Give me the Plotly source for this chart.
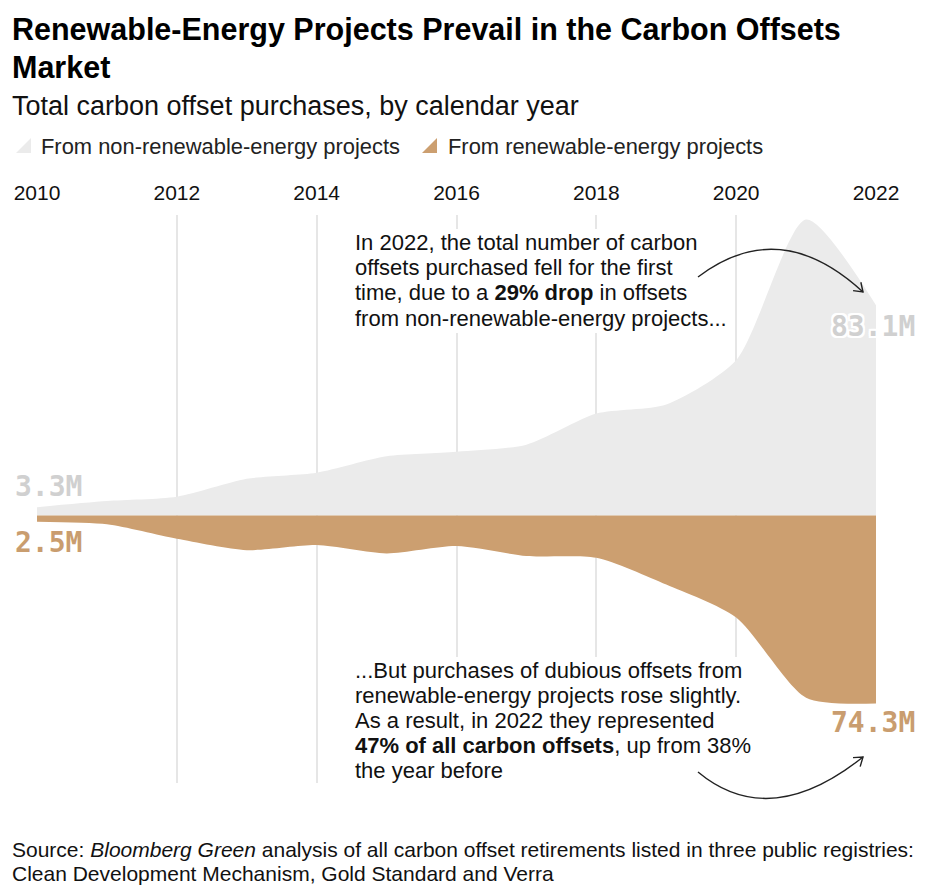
import math
import plotly.graph_objects as go

# ---------------- data ----------------
years = [2010, 2011, 2012, 2013, 2014, 2015, 2016, 2017, 2018, 2019, 2020, 2021, 2022]
non_renewable = [3.3, 5.7, 7.4, 14.5, 16.9, 23.4, 25.2, 28.0, 40.3, 43.9, 61.4, 117.0, 83.1]
renewable = [2.5, 3.5, 9.2, 13.7, 11.7, 15.0, 12.1, 16.0, 16.7, 27.3, 40.3, 72.0, 74.3]
tick_years = [2010, 2012, 2014, 2016, 2018, 2020, 2022]
series_names = ["From non-renewable-energy projects", "From renewable-energy projects"]

title_lines = ["Renewable-Energy Projects Prevail in the Carbon Offsets", "Market"]
subtitle = "Total carbon offset purchases, by calendar year"
note_top = ["In 2022, the total number of carbon",
            "offsets purchased fell for the first",
            "time, due to a <b>29% drop</b> in offsets",
            "from non-renewable-energy projects..."]
note_bottom = ["...But purchases of dubious offsets from",
               "renewable-energy projects rose slightly.",
               "As a result, in 2022 they represented",
               "<b>47% of all carbon offsets</b>, up from 38%",
               "the year before"]
source_lines = ["Source: <i>Bloomberg Green</i> analysis of all carbon offset retirements listed in three public registries:",
                "Clean Development Mechanism, Gold Standard and Verra"]

GRAY = "#ebebeb"
TAN = "#cc9f70"
GRAY_TXT = "#d0d0d0"
TAN_TXT = "#c99d6f"
FONT = "Liberation Sans, Arial, sans-serif"
MONO = "DejaVu Sans Mono, Liberation Mono, monospace"

W, H = 930, 895
L, R, T, B = 37, 54, 215, 112
PW, PH = W - L - R, H - T - B


def px(x):
    return (x - L) / PW


def py(y):
    return (H - B - y) / PH


fig = go.Figure()
fig.add_trace(go.Scatter(
    x=years, y=non_renewable, mode="lines",
    line=dict(width=0, color=GRAY, shape="spline", smoothing=0.7),
    fill="tozeroy", fillcolor=GRAY, hoverinfo="skip", showlegend=False,
    name=series_names[0]))
fig.add_trace(go.Scatter(
    x=years, y=[-v for v in renewable], mode="lines",
    line=dict(width=0, color=TAN, shape="spline", smoothing=0.7),
    fill="tozeroy", fillcolor=TAN, hoverinfo="skip", showlegend=False,
    name=series_names[1]))

halo = ", ".join(f"{dx}px {dy}px 0 #fff" for dx in (-2, 0, 2) for dy in (-2, 0, 2) if dx or dy)

annotations = []


def text_line(x, yc, text, size, color="#111", bold=False, bg=None):
    d = dict(xref="paper", yref="paper", x=px(x), y=py(yc), xanchor="left", yanchor="middle",
             text=f"<b>{text}</b>" if bold else text, showarrow=False, align="left",
             font=dict(family=FONT, size=size, color=color), borderpad=0)
    if bg:
        d["bgcolor"] = bg
    annotations.append(d)


# title, subtitle
text_line(11, 29, title_lines[0], 30.5, "#000", bold=True)
text_line(11, 67, title_lines[1], 30.5, "#000", bold=True)
text_line(11, 106, subtitle, 27, "#111")
# legend
text_line(40, 146.5, series_names[0], 21.9, "#222")
text_line(447, 146.5, series_names[1], 21.9, "#222")

# white panels behind story text (mask gridlines)
shapes = []
shapes.append(dict(type="rect", xref="paper", yref="paper", x0=px(350), x1=px(727), y0=py(229), y1=py(333),
                   fillcolor="#fff", line=dict(width=0), layer="above"))
shapes.append(dict(type="rect", xref="paper", yref="paper", x0=px(350), x1=px(752), y0=py(657), y1=py(790),
                   fillcolor="#fff", line=dict(width=0), layer="above"))

for i, t in enumerate(note_top):
    text_line(354, 242.5 + 25.2 * i, t, 22, "#111")
for i, t in enumerate(note_bottom):
    text_line(354, 670.5 + 25 * i, t, 22, "#111")

# value labels
annotations.append(dict(x=years[0], y=non_renewable[0], xanchor="left", yanchor="bottom", xshift=-24, yshift=2,
                        text=f"{non_renewable[0]}M", showarrow=False,
                        font=dict(family=MONO, size=28, color=GRAY_TXT, weight="bold", shadow=halo)))
annotations.append(dict(x=years[0], y=-renewable[0], xanchor="left", yanchor="top", xshift=-24, yshift=-2,
                        text=f"{renewable[0]}M", showarrow=False,
                        font=dict(family=MONO, size=28, color=TAN_TXT, weight="bold", shadow=halo)))
annotations.append(dict(x=years[-1], y=non_renewable[-1], xanchor="right", yanchor="top", xshift=41, yshift=-3,
                        text=f"{non_renewable[-1]}M", showarrow=False,
                        font=dict(family=MONO, size=28, color=GRAY_TXT, weight="bold", shadow=halo)))
annotations.append(dict(x=years[-1], y=-renewable[-1], xanchor="right", yanchor="top", xshift=41, yshift=-1,
                        text=f"{renewable[-1]}M", showarrow=False,
                        font=dict(family=MONO, size=28, color=TAN_TXT, weight="bold", shadow=halo)))
# source
text_line(11, 849, source_lines[0], 21, "#111")
text_line(11, 873, source_lines[1], 21, "#111")

# legend icons
for x0, col in ((16, GRAY), (422, TAN)):
    shapes.append(dict(type="path", xref="paper", yref="paper",
                       path=f"M{px(x0)},{py(153)} L{px(x0 + 15)},{py(153)} L{px(x0 + 15)},{py(138)} Z",
                       fillcolor=col, line=dict(width=0)))


def curved_arrow(p0, c, p1):
    path = f"M{px(p0[0])},{py(p0[1])} Q{px(c[0])},{py(c[1])} {px(p1[0])},{py(p1[1])}"
    dx, dy = p1[0] - c[0], p1[1] - c[1]
    n = math.hypot(dx, dy)
    bx, by = -dx / n, -dy / n
    pts = []
    for a in (math.radians(35), math.radians(-35)):
        rx = bx * math.cos(a) - by * math.sin(a)
        ry = bx * math.sin(a) + by * math.cos(a)
        pts.append((p1[0] + 10 * rx, p1[1] + 10 * ry))
    head = (f"M{px(pts[0][0])},{py(pts[0][1])} L{px(p1[0])},{py(p1[1])} "
            f"L{px(pts[1][0])},{py(pts[1][1])}")
    return [dict(type="path", xref="paper", yref="paper", path=path, layer="above",
                 line=dict(color="#222", width=1.4)),
            dict(type="path", xref="paper", yref="paper", path=head, layer="above",
                 line=dict(color="#222", width=1.4))]


shapes += curved_arrow((698, 277), (779.5, 215), (863, 292))
shapes += curved_arrow((698, 772), (769.5, 831.5), (863, 757))

ymax = (515.5 - T) / 2.53
ymin = -(H - B - 515.5) / 2.53

fig.update_layout(
    width=W, height=H,
    margin=dict(l=L, r=R, t=T, b=B, pad=0),
    paper_bgcolor="#fff", plot_bgcolor="#fff",
    showlegend=False,
    annotations=annotations, shapes=shapes,
    xaxis=dict(range=[2010, 2022], side="top", tickmode="array", tickvals=tick_years,
               ticktext=[str(t) for t in tick_years], showgrid=True, gridcolor="#e6e6e6", gridwidth=1.5,
               zeroline=False, showline=False, ticks="", ticklabelstandoff=10,
               tickfont=dict(family=FONT, size=21, color="#111"), fixedrange=True),
    yaxis=dict(range=[ymin, ymax], visible=False, showgrid=False, zeroline=False, fixedrange=True),
)

fig.write_html("out.html", config={"displayModeBar": False},
               post_script="document.body.style.margin='0';document.body.style.overflow='hidden';")
